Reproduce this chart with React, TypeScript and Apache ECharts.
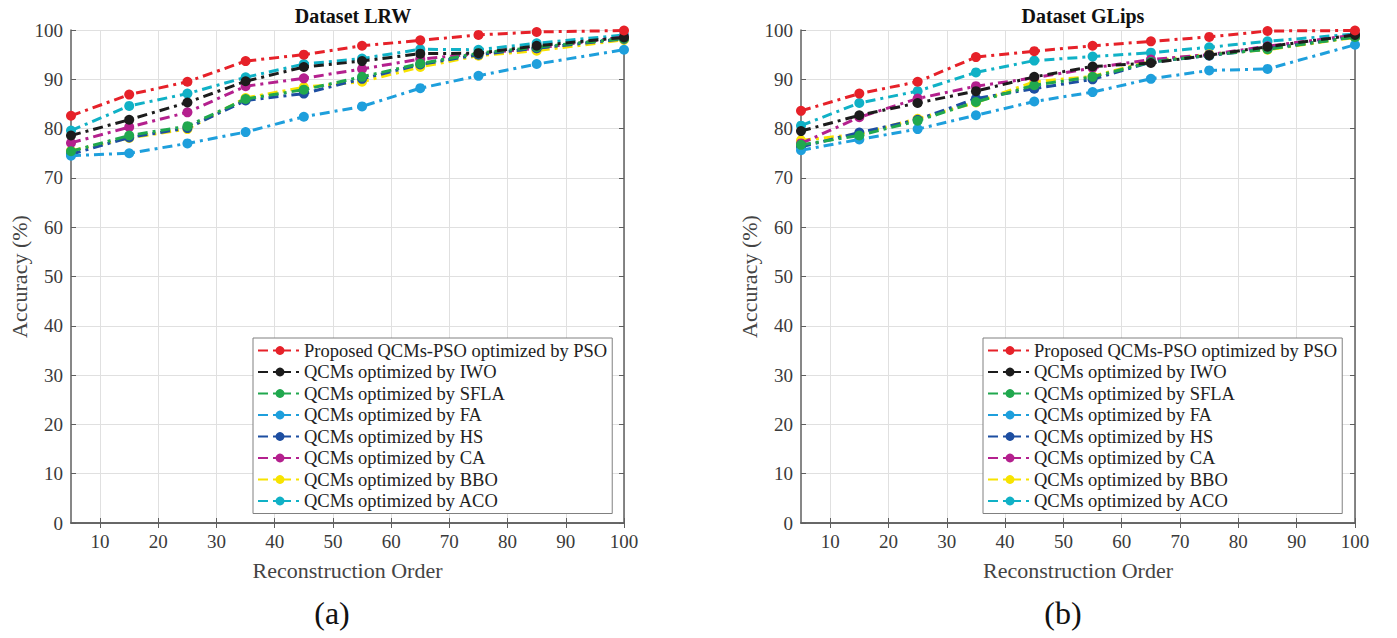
import React, { useEffect, useRef } from "react";
import * as echarts from "echarts";

const xValues = [5, 15, 25, 35, 45, 55, 65, 75, 85, 100];
const xTicks = [10, 20, 30, 40, 50, 60, 70, 80, 90, 100];

const seriesNames = [
  "Proposed QCMs-PSO optimized by PSO",
  "QCMs optimized by IWO",
  "QCMs optimized by SFLA",
  "QCMs optimized by FA",
  "QCMs optimized by HS",
  "QCMs optimized by CA",
  "QCMs optimized by BBO",
  "QCMs optimized by ACO",
];
const seriesColors = ["#e62129", "#1c1c1c", "#20a84e", "#1e9fdc", "#1d4ea1", "#b4208e", "#f7e300", "#10b1c6"];

// Dataset LRW
const lrwPSO = [82.6, 86.9, 89.5, 93.7, 95.0, 96.8, 97.9, 99.0, 99.6, 99.9];
const lrwIWO = [78.6, 81.8, 85.3, 89.6, 92.5, 93.7, 95.2, 95.3, 96.8, 98.5];
const lrwSFLA = [75.4, 78.6, 80.5, 86.0, 87.9, 90.5, 93.2, 95.3, 96.5, 98.3];
const lrwFA = [74.5, 75.0, 77.0, 79.3, 82.4, 84.5, 88.2, 90.7, 93.1, 96.0];
const lrwHS = [74.8, 78.2, 80.1, 85.7, 87.1, 90.1, 93.0, 95.0, 96.3, 98.2];
const lrwCA = [77.1, 80.3, 83.3, 88.6, 90.2, 92.1, 94.1, 95.2, 96.3, 98.6];
const lrwBBO = [75.5, 78.1, 79.9, 86.2, 88.4, 89.5, 92.5, 94.8, 95.8, 98.0];
const lrwACO = [79.6, 84.6, 87.1, 90.4, 93.1, 94.2, 96.1, 96.0, 97.3, 99.0];

// Dataset GLips
const glPSO = [83.6, 87.1, 89.5, 94.5, 95.7, 96.8, 97.7, 98.6, 99.8, 99.9];
const glIWO = [79.5, 82.7, 85.2, 87.6, 90.5, 92.6, 93.3, 94.9, 96.6, 99.0];
const glSFLA = [76.7, 78.6, 81.6, 85.4, 88.8, 90.5, 93.5, 94.9, 96.1, 98.6];
const glFA = [75.6, 77.8, 79.9, 82.7, 85.5, 87.4, 90.1, 91.8, 92.1, 97.0];
const glHS = [76.3, 79.2, 81.8, 86.1, 88.1, 90.0, 93.5, 94.8, 96.2, 98.6];
const glCA = [77.0, 82.3, 86.1, 88.6, 90.3, 92.3, 94.0, 95.0, 96.7, 99.0];
const glBBO = [77.6, 78.9, 82.0, 85.3, 89.5, 90.6, 93.7, 95.1, 96.0, 98.5];
const glACO = [80.6, 85.2, 87.6, 91.4, 93.8, 94.6, 95.4, 96.5, 97.7, 99.2];

const lrwData = [lrwPSO, lrwIWO, lrwSFLA, lrwFA, lrwHS, lrwCA, lrwBBO, lrwACO];
const glData = [glPSO, glIWO, glSFLA, glFA, glHS, glCA, glBBO, glACO];

const FONT = "Liberation Serif";
const AXIS_COLOR = "#5f5f5f";
const TEXT_COLOR = "#3a3a3a";

export default function App() {
  const ref = useRef<HTMLDivElement>(null);
  useEffect(() => {
    if (!ref.current) return;
    const chart = echarts.init(ref.current, null, { renderer: "svg" });

    const grids = [
      { left: 71, top: 30, width: 553, height: 493 },
      { left: 801, top: 30, width: 554, height: 493 },
    ];

    const xAxes: any[] = [];
    const yAxes: any[] = [];
    [0, 1].forEach((g) => {
      xAxes.push({
        type: "value",
        gridIndex: g,
        min: 5,
        max: 100,
        position: "bottom",
        name: "Reconstruction Order",
        nameLocation: "middle",
        nameGap: 36,
        nameTextStyle: { fontFamily: FONT, fontSize: 22, color: "#444" },
        axisLine: { show: true, lineStyle: { color: AXIS_COLOR, width: 1.5 } },
        axisTick: { show: true, inside: true, length: 5, customValues: xTicks, lineStyle: { color: AXIS_COLOR } },
        axisLabel: { customValues: xTicks, fontFamily: FONT, fontSize: 19, color: TEXT_COLOR, margin: 9 },
        splitLine: { show: true, lineStyle: { color: "#e0e0e0", width: 1 } },
      });
      xAxes.push({
        type: "value",
        gridIndex: g,
        min: 5,
        max: 100,
        position: "top",
        axisLine: { show: true, lineStyle: { color: AXIS_COLOR, width: 1.5 } },
        axisTick: { show: true, inside: true, length: 5, customValues: xTicks, lineStyle: { color: AXIS_COLOR } },
        axisLabel: { show: false },
        splitLine: { show: false },
      });
      yAxes.push({
        type: "value",
        gridIndex: g,
        min: 0,
        max: 100,
        interval: 10,
        position: "left",
        name: "Accuracy (%)",
        nameLocation: "middle",
        nameGap: 41,
        nameTextStyle: { fontFamily: FONT, fontSize: 22, color: "#444" },
        axisLine: { show: true, lineStyle: { color: AXIS_COLOR, width: 1.5 } },
        axisTick: { show: true, inside: true, length: 5, lineStyle: { color: AXIS_COLOR } },
        axisLabel: { fontFamily: FONT, fontSize: 19, color: TEXT_COLOR, margin: 8 },
        splitLine: { show: true, lineStyle: { color: "#e0e0e0", width: 1 } },
      });
      yAxes.push({
        type: "value",
        gridIndex: g,
        min: 0,
        max: 100,
        interval: 10,
        position: "right",
        axisLine: { show: true, lineStyle: { color: AXIS_COLOR, width: 1.5 } },
        axisTick: { show: true, inside: true, length: 5, lineStyle: { color: AXIS_COLOR } },
        axisLabel: { show: false },
        splitLine: { show: false },
      });
    });

    const series: any[] = [];
    [lrwData, glData].forEach((ds, g) => {
      ds.forEach((vals, i) => {
        series.push({
          type: "line",
          name: seriesNames[i],
          xAxisIndex: g * 2,
          yAxisIndex: g * 2,
          data: xValues.map((x, k) => [x, vals[k]]),
          symbol: "circle",
          symbolSize: 10,
          color: seriesColors[i],
          lineStyle: { width: 3, type: [10, 5, 3, 5], color: seriesColors[i] },
          itemStyle: { color: seriesColors[i] },
          z: 10 - i,
        });
      });
    });

    const legendCommon = {
      orient: "vertical",
      width: 380,
      height: 230,
      itemWidth: 44,
      itemHeight: 11,
      itemGap: 2.5,
      padding: [3, 5, 3, 4],
      backgroundColor: "#ffffff",
      borderColor: "#808080",
      borderWidth: 1,
      textStyle: { fontFamily: FONT, fontSize: 18.5, lineHeight: 19, color: "#222", padding: [0, 0, 0, -3] },
      data: seriesNames,
    };

    chart.setOption({
      animation: false,
      backgroundColor: "#ffffff",
      title: [
        { text: "Dataset LRW", left: 348, top: 1, textAlign: "center", textStyle: { fontFamily: FONT, fontSize: 20, fontWeight: "bold", color: "#111" } },
        { text: "Dataset GLips", left: 1078, top: 1, textAlign: "center", textStyle: { fontFamily: FONT, fontSize: 20, fontWeight: "bold", color: "#111" } },
        { text: "(a)", left: 327, top: 592, textAlign: "center", textStyle: { fontFamily: FONT, fontSize: 32, fontWeight: "normal", color: "#111" } },
        { text: "(b)", left: 1058, top: 592, textAlign: "center", textStyle: { fontFamily: FONT, fontSize: 32, fontWeight: "normal", color: "#111" } },
      ],
      grid: grids,
      xAxis: xAxes,
      yAxis: yAxes,
      legend: [
        { ...legendCommon, left: 253, top: 338 },
        { ...legendCommon, left: 983, top: 338 },
      ],
      series,
    });

    return () => chart.dispose();
  }, []);

  return (
    <div
      ref={ref}
      style={{ position: "fixed", left: 0, top: 0, width: 1397, height: 638, background: "#fff" }}
    />
  );
}
